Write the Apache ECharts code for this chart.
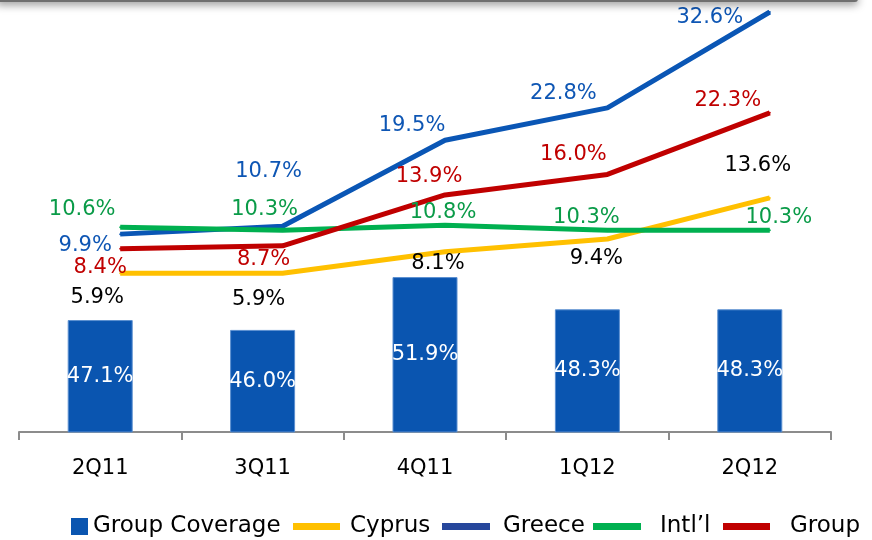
<!DOCTYPE html>
<html>
<head>
<meta charset="utf-8">
<script src="https://cdn.jsdelivr.net/npm/echarts@6/dist/echarts.min.js"></script>
<style>
  html, body { margin: 0; padding: 0; background: #fff; }
  #chart { width: 872px; height: 540px; }
</style>
</head>
<body>
<div id="chart"></div>
<script>
// quarters on the x axis
const categories = ['2Q11', '3Q11', '4Q11', '1Q12', '2Q12'];

// coverage ratios (%)
const groupCoverage = [47.1, 46.0, 51.9, 48.3, 48.3];
const cyprus = [5.9, 5.9, 8.1, 9.4, 13.6];
const greece = [9.9, 10.7, 19.5, 22.8, 32.6];
const intl = [10.6, 10.3, 10.8, 10.3, 10.3];
const group = [8.4, 8.7, 13.9, 16.0, 22.3];

// label nudges (px) so the numbers sit like in the slide
const cyprusShift = [[-23, 24], [-24, 26], [-7, 12], [-11, 20], [-12, -32]];
const greeceShift = [[-35, 11], [-14, -55], [-33, -15], [-44, -14], [-60, 6]];
const intlShift = [[-38, -18], [-18, -21], [-2, -13], [-21, -13], [9, -13]];
const groupShift = [[-20, 19], [-19, 14], [-16, -18], [-34, -20], [-42, -12]];

const FONT = 'DejaVu Sans';

function lineSeries(name, values, shifts, lineColor, labelColor) {
  return {
    name: name,
    type: 'line',
    xAxisIndex: 1,
    yAxisIndex: 1,
    symbol: 'circle',
    symbolSize: 2,
    itemStyle: { color: lineColor },
    lineStyle: { color: lineColor, width: 5 },
    z: 3,
    data: values.map((v, i) => ({
      value: v,
      label: { offset: shifts[i] }
    })),
    label: {
      show: true,
      position: 'inside',
      align: 'center',
      verticalAlign: 'middle',
      color: labelColor,
      fontFamily: FONT,
      fontSize: 21,
      formatter: (p) => p.value.toFixed(1) + '%'
    }
  };
}

function legendBox(name, left, w, h, iconColor, textPad) {
  return {
    left: left,
    top: 515,
    padding: 0,
    itemWidth: w,
    itemHeight: h,
    icon: 'rect',
    data: [{ name: name, icon: 'rect', itemStyle: { color: iconColor, borderWidth: 0 } }],
    textStyle: {
      color: '#000',
      fontFamily: FONT,
      fontSize: 23,
      padding: [0, 0, 0, textPad]
    },
    selectedMode: false
  };
}

const chart = echarts.init(document.getElementById('chart'));

const option = {
  animation: false,
  backgroundColor: '#fff',
  graphic: [{
    type: 'rect',
    shape: { x: -4, y: -8, width: 862, height: 10, r: 3 },
    style: {
      fill: '#6f6f6f',
      shadowBlur: 8,
      shadowOffsetY: 3,
      shadowColor: 'rgba(0,0,0,0.4)'
    },
    z: 10
  }],
  legend: [
    legendBox('Group Coverage', 71, 17, 17, '#0A55B0', 0),
    legendBox('Cyprus', 293, 47, 7, '#FFC000', 5),
    legendBox('Greece', 442, 48, 7, '#27479C', 8),
    legendBox('Intl’l', 593, 48, 7, '#00B050', 14),
    legendBox('Group', 723, 47, 7, '#C00000', 15)
  ],
  grid: [
    { left: 19, right: 41, top: 12, bottom: 108 },
    { left: 39, right: 21, top: 12, bottom: 209 }
  ],
  xAxis: [
    {
      type: 'category',
      gridIndex: 0,
      data: categories,
      boundaryGap: true,
      axisLine: { lineStyle: { color: '#8C8C8C', width: 2 } },
      axisTick: { show: true, length: 8, lineStyle: { color: '#8C8C8C', width: 2 } },
      axisLabel: { color: '#000', fontFamily: FONT, fontSize: 21, margin: 26 }
    },
    {
      type: 'category',
      gridIndex: 1,
      data: categories,
      boundaryGap: true,
      show: false
    }
  ],
  yAxis: [
    { type: 'value', gridIndex: 0, min: 34.6, max: 81.5, show: false, splitLine: { show: false } },
    { type: 'value', gridIndex: 1, min: 0, max: 32.6, show: false, splitLine: { show: false } }
  ],
  series: [
    {
      name: 'Group Coverage',
      type: 'bar',
      xAxisIndex: 0,
      yAxisIndex: 0,
      barWidth: 65,
      data: groupCoverage,
      itemStyle: { color: '#0A55B0', borderColor: '#5B8FD0', borderWidth: 1 },
      z: 2,
      label: {
        show: true,
        position: 'inside',
        color: '#fff',
        fontFamily: FONT,
        fontSize: 21,
        formatter: (p) => p.value.toFixed(1) + '%'
      }
    },
    lineSeries('Cyprus', cyprus, cyprusShift, '#FFC000', '#000'),
    lineSeries('Greece', greece, greeceShift, '#0A56B5', '#0E56B4'),
    lineSeries('Intl’l', intl, intlShift, '#00B050', '#0A9B48'),
    lineSeries('Group', group, groupShift, '#C00000', '#C00000')
  ]
};

chart.setOption(option);
</script>
</body>
</html>
